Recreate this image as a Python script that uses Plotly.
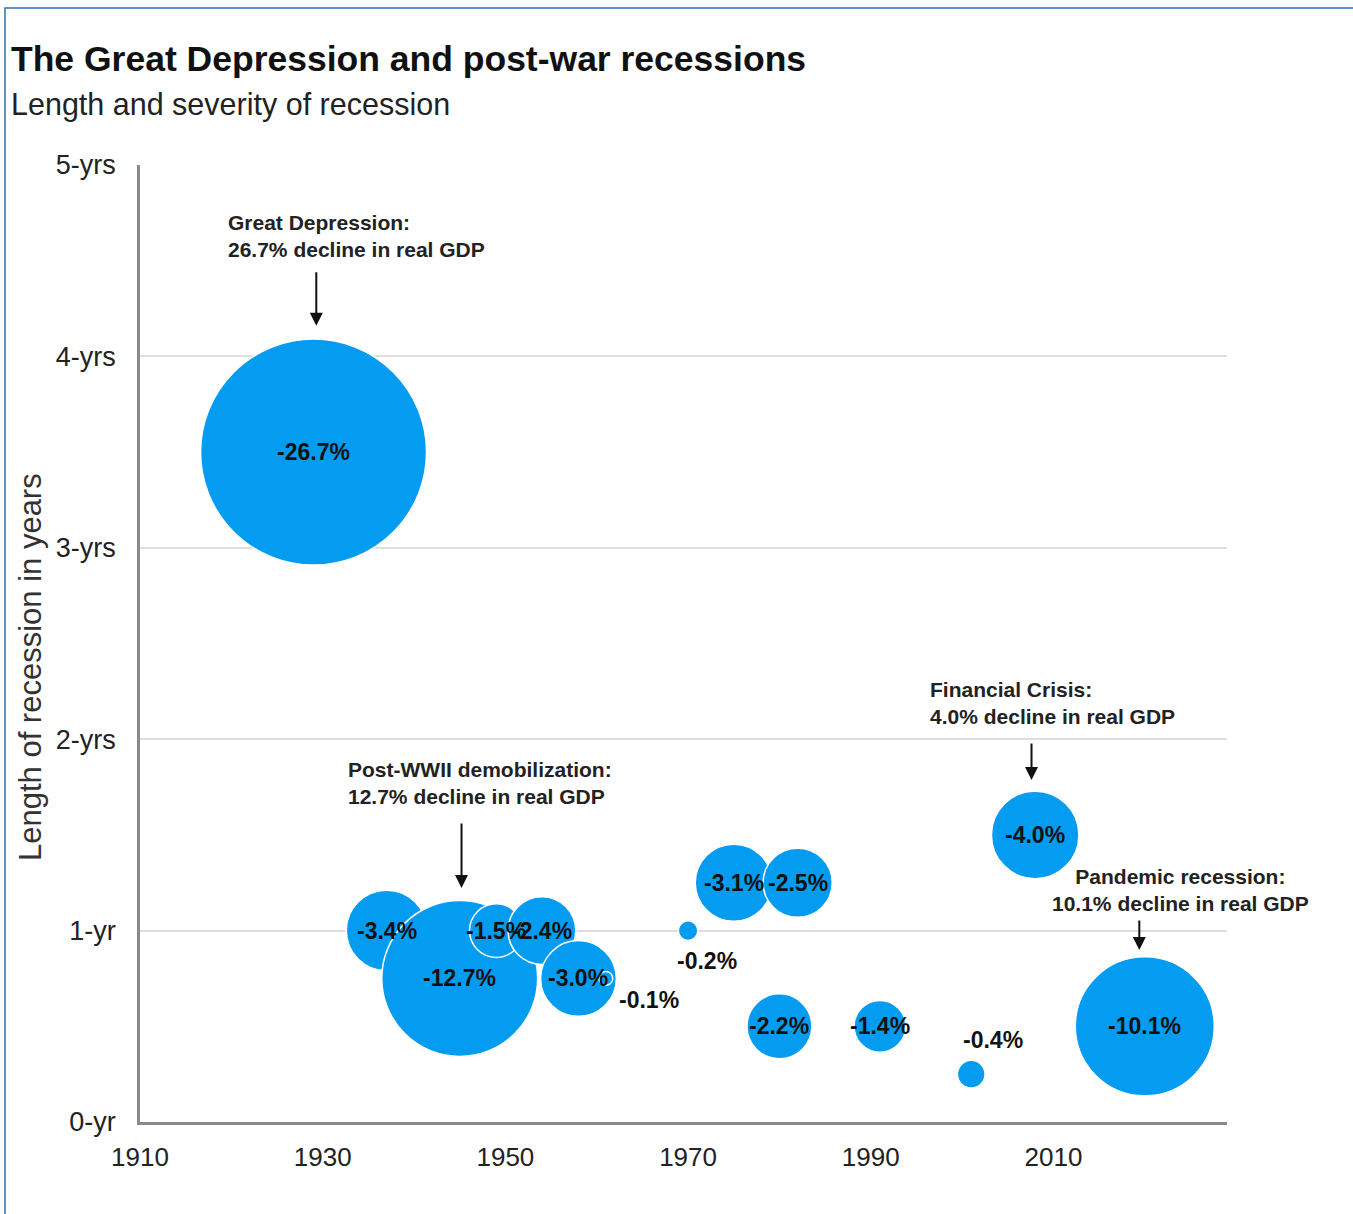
import plotly.graph_objects as go

# ---- data ----
years = [1929, 1937, 1945, 1949, 1954, 1958, 1961, 1970, 1975, 1980, 1982, 1991, 2001, 2008, 2020]
length_years = [3.5, 1.0, 0.75, 1.0, 1.0, 0.75, 0.75, 1.0, 1.25, 0.5, 1.25, 0.5, 0.25, 1.5, 0.5]
gdp_decline = [26.7, 3.4, 12.7, 1.5, 2.4, 3.0, 0.1, 0.2, 3.1, 2.2, 2.5, 1.4, 0.4, 4.0, 10.1]
labels = ["-26.7%", "-3.4%", "-12.7%", "-1.5%", "-2.4%", "-3.0%", "-0.1%", "-0.2%",
          "-3.1%", "-2.2%", "-2.5%", "-1.4%", "-0.4%", "-4.0%", "-10.1%"]
# label pixel offsets (style only)
label_dx = [0, 0, 0, 0, 0, 0, 43, 19, 0, 0, 0, 0, 22, 0, 0]
label_dy = [0, 0, 0, 0, 0, 0, -22, -30, 0, 0, 0, 0, 34, 0, 0]

y_tickvals = [0, 1, 2, 3, 4, 5]
y_ticktext = ["0-yr", "1-yr", "2-yrs", "3-yrs", "4-yrs", "5-yrs"]
x_tickvals = [1910, 1930, 1950, 1970, 1990, 2010]

callouts = [
    # text, text x, text y, xanchor, align, arrow tip x, arrow tip y, arrow length px
    ("Great Depression:<br>26.7% decline in real GDP", 1919.4, 4.63, "left", "left", 1929.3, 4.16, 55),
    ("Post-WWII demobilization:<br>12.7% decline in real GDP", 1932.6, 1.77, "left", "left", 1945.2, 1.222, 66),
    ("Financial Crisis:<br>4.0% decline in real GDP", 1996.3, 2.19, "left", "left", 2007.6, 1.787, 38),
    ("Pandemic recession:<br>10.1% decline in real GDP", 2023.9, 1.21, "center", "center", 2019.4, 0.899, 31),
]

BLUE = "#049cf0"
FONT = "Liberation Sans, Arial, sans-serif"

max_d = 226
fig = go.Figure()
fig.add_trace(go.Scatter(
    x=years, y=length_years, mode="markers",
    marker=dict(size=gdp_decline, sizemode="area",
                sizeref=2.0 * max(gdp_decline) / (max_d ** 2),
                color=BLUE, opacity=1, line=dict(color="white", width=1.5)),
    hoverinfo="skip", showlegend=False, cliponaxis=False,
))

annotations = []
for x, y, t, dx, dy in zip(years, length_years, labels, label_dx, label_dy):
    annotations.append(dict(x=x, y=y, xref="x", yref="y", text=t, showarrow=False,
                            xshift=dx, yshift=dy,
                            font=dict(family=FONT, size=23, color="#111111", weight="bold")))

for txt, tx, ty, xa, al, ax_, ay_, alen in callouts:
    annotations.append(dict(x=tx, y=ty, xref="x", yref="y", text=txt, showarrow=False,
                            xanchor=xa, yanchor="middle", align=al,
                            font=dict(family=FONT, size=21, color="#222222", weight="bold")))
    annotations.append(dict(x=ax_, y=ay_, xref="x", yref="y", text="", showarrow=True,
                            ax=0, ay=-alen, arrowhead=2, arrowsize=1.3, arrowwidth=2,
                            arrowcolor="#111111", standoff=0))

# title, subtitle, y-axis title
annotations.append(dict(x=-0.1205, y=1.1105, xref="paper", yref="paper", xanchor="left", yanchor="middle",
                        text="<b>The Great Depression and post-war recessions</b>", showarrow=False,
                        font=dict(family=FONT, size=35.5, color="#111111")))
annotations.append(dict(x=-0.1205, y=1.0635, xref="paper", yref="paper", xanchor="left", yanchor="middle",
                        text="Length and severity of recession", showarrow=False,
                        font=dict(family=FONT, size=30.5, color="#222222")))
annotations.append(dict(x=-0.1012, y=0.4754, xref="paper", yref="paper", xanchor="center", yanchor="middle",
                        text="Length of recession in years", showarrow=False, textangle=-90,
                        font=dict(family=FONT, size=31, color="#333333")))

fig.update_layout(
    width=1353, height=1214,
    margin=dict(l=140, r=126, t=165, b=92),
    paper_bgcolor="white", plot_bgcolor="white",
    font=dict(family=FONT, color="#222222"),
    annotations=annotations,
    shapes=[dict(type="rect", xref="paper", yref="paper", x0=-0.1242, x1=1.3, y0=-0.3, y1=1.1641,
                 line=dict(color="#2f6fae", width=1.5), fillcolor="rgba(0,0,0,0)", layer="below")],
    xaxis=dict(range=[1910, 2029], tickvals=x_tickvals, showgrid=False, zeroline=False,
               showline=True, linecolor="#8a8a8a", linewidth=3, ticks="",
               ticklabelstandoff=10,
               tickfont=dict(family=FONT, size=26, color="#222222")),
    yaxis=dict(range=[0, 5], tickvals=y_tickvals, ticktext=y_ticktext, showgrid=True,
               gridcolor="#dedede", gridwidth=1.5, zeroline=False,
               showline=True, linecolor="#8a8a8a", linewidth=2.5, ticks="",
               ticklabelstandoff=16,
               tickfont=dict(family=FONT, size=27, color="#222222")),
)

fig.write_html("out.html")
